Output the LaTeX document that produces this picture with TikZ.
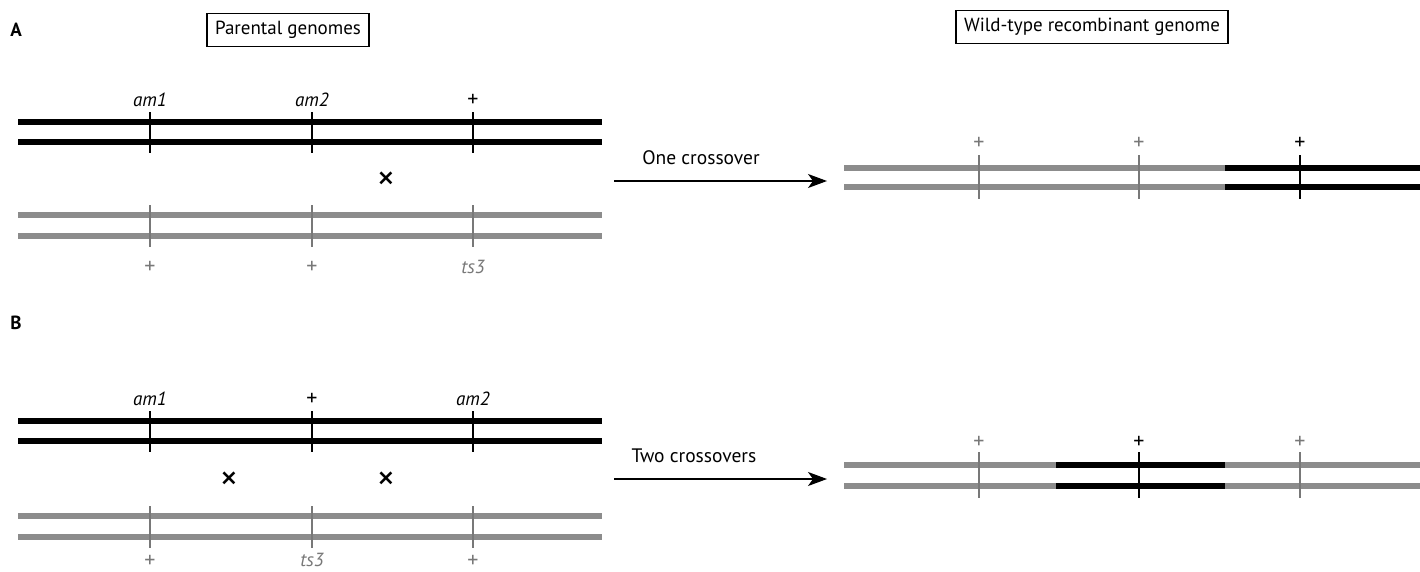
\documentclass[tikz,border=0pt]{standalone}
\usepackage{fontspec}
\setmainfont{PT Sans}
\usetikzlibrary{arrows.meta}
\definecolor{chromgray}{RGB}{140,140,140}
\definecolor{tickgray}{RGB}{120,120,120}
\begin{document}
\begin{tikzpicture}[x=1pt,y=-1pt,
  blk/.style={line width=6.5pt,black},
  gry/.style={line width=6.5pt,chromgray},
  tickb/.style={line width=2.4pt,black},
  tickg/.style={line width=1.5pt,tickgray},
  lab/.style={font=\fontsize{19.5}{22}\selectfont,inner sep=0pt},
  mlab/.style={font=\fontsize{19}{22}\selectfont\itshape,inner sep=0pt},
  plus/.style={font=\fontsize{22}{24}\selectfont,inner sep=0pt},
  cross/.style={font=\fontsize{36}{38}\selectfont,inner sep=0pt},
  framebox/.style={draw,line width=1.5pt,font=\fontsize{19}{22}\selectfont,inner xsep=8pt,inner ysep=8pt},
  arr/.style={line width=1.3pt,-{Stealth[length=19pt,width=14pt,inset=5pt]}}]
\useasboundingbox[fill=white] (0,0) rectangle (1420,571);

% ---------- headings ----------
\node[lab,font=\fontsize{19}{22}\selectfont\bfseries] (labA) at (16,30) {A};
\node[lab,font=\fontsize{19}{22}\selectfont\bfseries] (labB) at (16,323) {B};
\node[framebox] (parental) at (288,30) {Parental genomes};
\node[framebox] (wildtype) at (1092,27) {Wild-type recombinant genome};

% ---------- Panel A parental ----------
\draw[blk] (18,122) -- (602,122);
\draw[blk] (18,142) -- (602,142);
\foreach \x in {150,312,473} \draw[tickb] (\x,112) -- (\x,153);
\node[mlab] (Aam1) at (150,100) {am1};
\node[mlab] (Aam2) at (312,100) {am2};
\node[plus] (Aplus3) at (473,100) {+};
\node[cross] (Ax) at (386,181) {×};
\draw[gry] (18,215) -- (602,215);
\draw[gry] (18,236) -- (602,236);
\foreach \x in {150,312,473} \draw[tickg] (\x,205) -- (\x,247);
\node[plus,text=tickgray] (Ap1) at (150,267) {+};
\node[plus,text=tickgray] (Ap2) at (312,267) {+};
\node[mlab,text=tickgray] (Ats3) at (473,267) {ts3};

% ---------- Panel A arrow ----------
\coordinate (a1s) at (614,181);
\coordinate (a1e) at (827,181);
\draw[arr] (a1s) -- (a1e);
\node[lab] (one) at (701,158) {One crossover};

% ---------- Panel A recombinant ----------
\draw[gry] (844,168) -- (1226,168);
\draw[gry] (844,187) -- (1226,187);
\draw[blk] (1225,168) -- (1420,168);
\draw[blk] (1225,187) -- (1420,187);
\foreach \x in {979,1139} \draw[tickg] (\x,155) -- (\x,199);
\draw[tickb] (1300,155) -- (1300,199);
\node[plus,text=tickgray] (Rp1) at (979,143) {+};
\node[plus,text=tickgray] (Rp2) at (1139,143) {+};
\node[plus] (Rp3) at (1300,143) {+};

% ---------- Panel B parental ----------
\draw[blk] (18,421) -- (602,421);
\draw[blk] (18,441) -- (602,441);
\foreach \x in {150,312,473} \draw[tickb] (\x,411) -- (\x,452);
\node[mlab] (Bam1) at (150,399) {am1};
\node[plus] (Bplus) at (312,399) {+};
\node[mlab] (Bam2) at (473,399) {am2};
\node[cross] (Bx1) at (229,481) {×};
\node[cross] (Bx2) at (386,481) {×};
\draw[gry] (18,516) -- (602,516);
\draw[gry] (18,537) -- (602,537);
\foreach \x in {150,312,473} \draw[tickg] (\x,506) -- (\x,548);
\node[plus,text=tickgray] (Bp1) at (150,561) {+};
\node[mlab,text=tickgray] (Bts3) at (312,560) {ts3};
\node[plus,text=tickgray] (Bp3) at (473,561) {+};

% ---------- Panel B arrow ----------
\coordinate (a2s) at (614,479);
\coordinate (a2e) at (827,479);
\draw[arr] (a2s) -- (a2e);
\node[lab] (two) at (694,456) {Two crossovers};

% ---------- Panel B recombinant ----------
\draw[gry] (844,465) -- (1057,465);
\draw[gry] (844,486) -- (1057,486);
\draw[blk] (1056,465) -- (1226,465);
\draw[blk] (1056,486) -- (1226,486);
\draw[gry] (1225,465) -- (1420,465);
\draw[gry] (1225,486) -- (1420,486);
\draw[tickg] (979,452) -- (979,498);
\draw[tickb] (1139,452) -- (1139,498);
\draw[tickg] (1300,452) -- (1300,498);
\node[plus,text=tickgray] (Sp1) at (979,442) {+};
\node[plus] (Sp2) at (1139,442) {+};
\node[plus,text=tickgray] (Sp3) at (1300,442) {+};
\end{tikzpicture}
\end{document}
